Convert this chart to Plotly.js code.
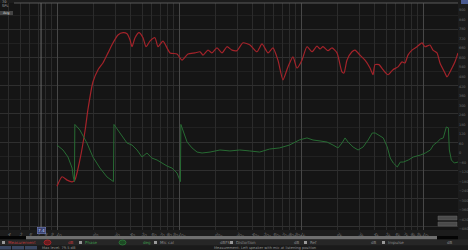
<!DOCTYPE html>
<html>
<head>
<meta charset="utf-8">
<script src="https://cdn.plot.ly/plotly-3.0.1.min.js"></script>
<style>
html,body{margin:0;padding:0;background:#1c1c1c;overflow:hidden;}
#chart{width:468px;height:250px;}
</style>
</head>
<body>
<div id="chart"></div>
<script>
// ---- data ----
const splFreq = [10.0,11.0,12.1,13.3,14.0,15.4,17.0,17.9,19.7,21.7,23.8,26.2,28.8,31.6,34.8,37.5,39.7,41.2,43.6,47.0,50.7,53.7,57.8,63.5,67.3,73.9,84.4,96.3,105.9,118.5,135.2,148.6,157.3,173.0,186.4,204.8,225.1,247.3,271.8,298.6,334.8,382.0,435.7,478.8,537.0,589.0,647.3,711.4,781.8,859.3,926.6,1018,1119,1230,1352,1432,1514,1664,1795,1973,2168,2250,2381,2617,2772,3047,3348,3680,3893,4044,4359,4701,5167,5679,6242,6731,7117,7529,8120,8925,9810,10380,11410,12070,13020,13780,15140,15730,17290,18290,19360];
const splDb = [52.1,53.8,53.2,52.9,53.2,56.8,62.1,65.7,70.7,72.9,74.1,75.9,77.7,79.1,79.5,79.3,78.2,77.0,78.6,79.5,78.6,77.0,78.0,78.6,77.0,78.0,75.9,75.7,74.6,75.7,75.9,76.1,75.5,76.4,75.9,76.8,75.9,77.0,76.4,76.3,77.7,77.3,76.1,77.5,75.9,76.8,74.6,71.1,73.4,75.2,73.2,74.6,77.0,76.1,77.1,76.6,77.0,76.3,76.8,75.9,72.5,72.3,74.6,76.1,76.4,75.5,74.6,73.2,72.0,73.8,73.8,72.9,72.0,72.9,73.4,74.3,74.1,75.5,76.4,77.0,77.7,77.0,77.3,76.4,75.9,74.1,72.3,71.6,73.2,74.3,75.9];

const phaseFreq = [10.0,11.2,12.3,13.3,13.6,13.9,14.0,15.4,17.6,19.7,22.5,25.7,29.0,29.3,32.8,37.5,41.2,45.3,49.7,54.6,60.0,66.1,72.6,79.8,87.6,96.3,102.7,103.6,116.5,127.9,140.6,154.5,179.8,216.8,261.5,315.3,380.2,458.4,552.7,666.4,803.5,968.8,1119,1254,1432,1636,1831,2012,2168,2296,2430,2672,2937,3229,3550,3834,4059,4297,4724,5094,5393,5709,6157,6518,6899,7584,8338,9510,10450,11490,12160,13090,13860,14670,15530,16140,16440,17080,18060,19360];
const phaseDeg = [50,19,-25,-95,-151,-180,180,145,63,-25,-95,-151,-180,180,126,63,50,19,-25,0,-32,-44,-63,-82,-95,-126,-180,180,69,32,6,0,6,19,13,19,13,6,25,32,50,82,95,82,76,69,50,32,63,95,69,38,19,38,82,126,126,113,95,38,-32,-63,-88,-57,-57,-44,-25,-13,0,19,50,69,88,95,164,158,19,-44,-63,-57];

const tickVals = [4,5,6,7,8,9,10,20,30,40,50,60,70,80,90,100,200,300,400,500,600,700,800,900,1000,2000,3000,4000,5000,6000,7000,8000,9000,10000,20000];
const tickText = ["4","5","6","7","8","9","10","20","30","40","50","60","70","80","90","100","200","300","400","500","600","700","800","900","1k","2k","3k","4k","5k","6k","7k","8k","9k","10k","20k"];
const decadeVals = [10,100,1000,10000];
const cursorFreq = 7.4;

const seriesNames = ["SPL", "Phase"];

// ---- layout helpers (pixel -> paper, decorations only) ----
const PL = 0, PW = 458, PT = 3, PH = 227;
const px = x => (x - PL) / PW;
const py = y => (PT + PH - y) / PH;

const xr = [Math.log10(10) - 57/122, Math.log10(10) + (458-57)/122];

const traces = [
  {x: splFreq, y: splDb, name: seriesNames[0], type:'scatter', mode:'lines',
   line:{color:'#a3232a', width:1.2, shape:'spline', smoothing:0.6}, xaxis:'x', yaxis:'y', hoverinfo:'skip'},
  {x: phaseFreq, y: phaseDeg, name: seriesNames[1], type:'scatter', mode:'lines',
   line:{color:'#276b33', width:1}, xaxis:'x2', yaxis:'y2', hoverinfo:'skip'}
];

const tinyFont = {family:'DejaVu Sans', size:4.2, color:'#6e6e6e'};

const shapes = [
  {type:'line', xref:'paper', yref:'paper', x0:px(14), x1:1, y0:1, y1:1, line:{color:'#5a5a5a', width:1}},
  {type:'line', xref:'x', yref:'paper', x0:cursorFreq, x1:cursorFreq, y0:0, y1:1, line:{color:'#6a6a6a', width:1}},
  {type:'rect', xref:'paper', yref:'paper', x0:px(0), x1:px(458), y0:py(239.5), y1:py(236), fillcolor:'#050505', line:{width:0}},
  {type:'rect', xref:'paper', yref:'paper', x0:px(26), x1:px(437), y0:py(239.5), y1:py(236), fillcolor:'#6e6e6e', line:{width:0}},
  {type:'rect', xref:'paper', yref:'paper', x0:px(0), x1:px(468), y0:py(245.5), y1:py(239.5), fillcolor:'#262626', line:{width:0}},
  {type:'rect', xref:'paper', yref:'paper', x0:px(0), x1:px(468), y0:py(250), y1:py(245.5), fillcolor:'#1a1a1a', line:{width:0}},
  {type:'rect', xref:'paper', yref:'paper', x0:px(0), x1:px(11), y0:py(249.5), y1:py(246), fillcolor:'#3a4660', line:{width:0}},
  {type:'rect', xref:'paper', yref:'paper', x0:px(12), x1:px(24), y0:py(249.5), y1:py(246), fillcolor:'#3a4660', line:{width:0}},
  {type:'rect', xref:'paper', yref:'paper', x0:px(25), x1:px(37), y0:py(249.5), y1:py(246), fillcolor:'#3a4660', line:{width:0}},
  {type:'circle', xref:'paper', yref:'paper', x0:px(44), x1:px(51), y0:py(245), y1:py(240), fillcolor:'#6a1c1e', line:{color:'#b3262b', width:0.8}},
  {type:'circle', xref:'paper', yref:'paper', x0:px(119), x1:px(126), y0:py(245), y1:py(240), fillcolor:'#1d4a24', line:{color:'#2c7a38', width:0.8}},
  {type:'rect', xref:'paper', yref:'paper', x0:px(2), x1:px(5), y0:py(244), y1:py(241), fillcolor:'#999', line:{width:0}},
  {type:'rect', xref:'paper', yref:'paper', x0:px(79), x1:px(82), y0:py(244), y1:py(241), fillcolor:'#999', line:{width:0}},
  {type:'rect', xref:'paper', yref:'paper', x0:px(154), x1:px(157), y0:py(244), y1:py(241), fillcolor:'#999', line:{width:0}},
  {type:'rect', xref:'paper', yref:'paper', x0:px(230), x1:px(233), y0:py(244), y1:py(241), fillcolor:'#999', line:{width:0}},
  {type:'rect', xref:'paper', yref:'paper', x0:px(304), x1:px(307), y0:py(244), y1:py(241), fillcolor:'#999', line:{width:0}},
  {type:'rect', xref:'paper', yref:'paper', x0:px(382), x1:px(385), y0:py(244), y1:py(241), fillcolor:'#999', line:{width:0}},
  {type:'rect', xref:'paper', yref:'paper', x0:px(438), x1:px(457), y0:py(220), y1:py(216), fillcolor:'#4a4a4a', line:{color:'#666', width:0.5}},
  {type:'rect', xref:'paper', yref:'paper', x0:px(438), x1:px(457), y0:py(226), y1:py(222), fillcolor:'#4a4a4a', line:{color:'#666', width:0.5}},
  {type:'rect', xref:'paper', yref:'paper', x0:px(0), x1:px(13), y0:py(15), y1:py(11), fillcolor:'#444', line:{width:0}},
  {type:'rect', xref:'paper', yref:'paper', x0:px(461), x1:px(468), y0:py(4), y1:py(0), fillcolor:'#4a5a90', line:{width:0}}
];

const ann = (x, y, t, c, s) => ({xref:'paper', yref:'paper', x:px(x), y:py(y), text:t, showarrow:false,
  xanchor:'left', yanchor:'middle', font:{family:'DejaVu Sans', size:s||4, color:c||'#8a8a8a'}});

const annotations = [
  {xref:'x', yref:'paper', x:Math.log10(cursorFreq), y:py(233.5), text:'7.4', showarrow:false,
   font:{family:'DejaVu Sans', size:4.2, color:'#cfd6ff'}, bgcolor:'#3b4470', bordercolor:'#7d88c8', borderwidth:0.5, borderpad:0.5},
  ann(6, 242.5, 'Measurement', '#c0393c'),
  ann(66, 242.5, 'dB', '#c0393c'),
  ann(83, 242.5, 'Phase', '#3c9a4a'),
  ann(141, 242.5, 'deg', '#3c9a4a'),
  ann(158, 242.5, 'Mic cal'),
  ann(218, 242.5, 'dBFS'),
  ann(234, 242.5, 'Distortion'),
  ann(292, 242.5, 'dB'),
  ann(308, 242.5, 'Ref'),
  ann(369, 242.5, 'dB'),
  ann(386, 242.5, 'Impulse'),
  ann(445, 242.5, 'dB'),
  ann(40, 248, 'Max level: 79.5 dB', '#909090', 3.6),
  ann(212, 248, 'Measurement: Left speaker with mic at listening position', '#909090', 3.6),
  ann(0, 1.5, '70', '#aaa', 3.6),
  ann(0, 6, 'SPL', '#aaa', 3.6),
  ann(0.5, 13, 'Avg', '#ddd', 3.4)
];

const layout = {
  width:468, height:250,
  margin:{l:PL, r:468-PL-PW, t:PT, b:250-PT-PH, pad:0},
  paper_bgcolor:'#1c1c1c', plot_bgcolor:'#151515',
  showlegend:false,
  xaxis:{type:'log', range:xr, tickvals:tickVals, ticktext:tickText, tickfont:tinyFont,
    ticks:'', ticklen:0, showgrid:true, gridcolor:'#2b2b2b', gridwidth:1, zeroline:false,
    showline:false, fixedrange:true},
  xaxis2:{type:'log', range:xr, overlaying:'x', anchor:'y2', tickvals:decadeVals, showticklabels:false,
    showgrid:true, gridcolor:'#474747', gridwidth:1, zeroline:false, showline:false, ticks:''},
  yaxis:{range:[44.3, 84.8], dtick:5, tick0:0, showticklabels:false, ticks:'', showgrid:true,
    gridcolor:'#2f2f2f', zeroline:false, showline:false,
    minor:{dtick:2.5, tick0:0, showgrid:true, gridcolor:'#212121'}},
  yaxis2:{range:[-485, 945], dtick:60, tick0:0, overlaying:'y', anchor:'x2', side:'right',
    showgrid:false, zeroline:false, showline:false, ticks:'', ticklen:0, ticklabelstandoff:0,
    tickfont:{family:'DejaVu Sans', size:3.4, color:'#6e6e6e'}},
  shapes: shapes,
  annotations: annotations
};

Plotly.newPlot('chart', traces, layout, {staticPlot:true, displayModeBar:false});
</script>
</body>
</html>
